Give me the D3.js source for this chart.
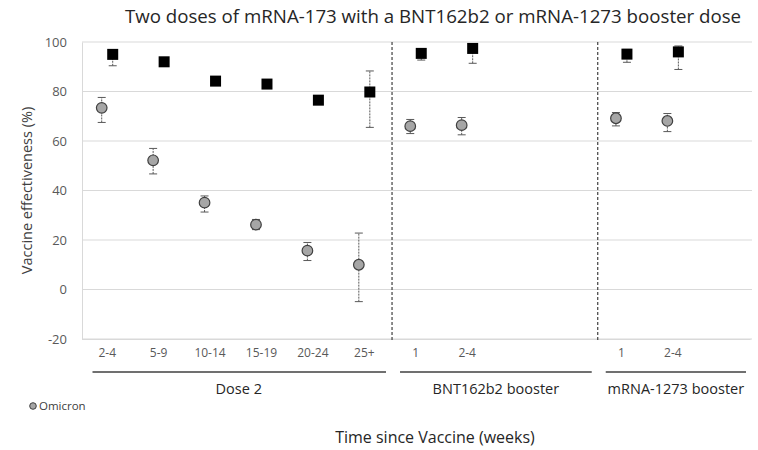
<!DOCTYPE html>
<html><head><meta charset="utf-8">
<script src="https://cdn.jsdelivr.net/npm/d3@7"></script>
<style>body{margin:0;background:#fff;}svg{display:block;font-family:"Open Sans",sans-serif;}</style>
</head><body><svg id="c" width="758" height="450"></svg>
<script>
const categories = ["2-4","5-9","10-14","15-19","20-24","25+","1","2-4","","","1","2-4",""];
const omicron     = [73.4, 52.2, 35.1, 26.2, 15.7, 10.0, 66.0, 66.4, null, null, 69.2, 68.1, null];
const omicronLow  = [67.5, 46.7, 31.3, 24.2, 11.7, -4.9, 63.0, 62.5, null, null, 66.1, 63.8, null];
const omicronHigh = [77.6, 57.0, 37.8, 28.3, 19.0, 22.8, 68.7, 69.5, null, null, 71.5, 71.1, null];
const delta       = [95.0, 92.0, 84.2, 83.0, 76.5, 79.8, 95.4, 97.4, null, null, 95.1, 96.0, null];
const deltaLow    = [90.4, 91.0, 83.5, 82.2, 75.8, 65.5, 92.7, 91.4, null, null, 91.8, 88.9, null];
const deltaHigh   = [96.8, 93.0, 85.0, 83.8, 77.2, 88.3, 97.0, 99.0, null, null, 97.0, 98.4, null];
const yTicks = [-20, 0, 20, 40, 60, 80, 100];
const groups = [
  {name: "Dose 2", start: 0, end: 5},
  {name: "BNT162b2 booster", start: 6, end: 9},
  {name: "mRNA-1273 booster", start: 10, end: 12}
];
const dividers = [6, 10];
const title = "Two doses of mRNA-173 with a BNT162b2 or mRNA-1273 booster dose";
const yTitle = "Vaccine effectiveness (%)";
const xTitle = "Time since Vaccine (weeks)";
const legendLabel = "Omicron";

const svg = d3.select("#c");
const idx = categories.map((d, i) => i);
const x = d3.scaleBand().domain(idx).range([81.5, 750]);
const y = d3.scaleLinear().domain([-20, 100]).range([339, 42]);
const bw = x.bandwidth();
const cx = i => x(i) + bw / 2;

// gridlines
svg.append("g").selectAll("line").data(yTicks).join("line")
  .attr("x1", 82).attr("x2", 752).attr("y1", d => y(d)).attr("y2", d => y(d))
  .attr("stroke", "#d9d9d9").attr("stroke-width", 1);

// y axis
const yAxis = svg.append("g").attr("transform", "translate(82,0)")
  .call(d3.axisLeft(y).tickValues(yTicks).tickSize(0).tickPadding(15).tickFormat(d => String(d)));
yAxis.select(".domain").attr("stroke", "#d9d9d9");
yAxis.selectAll("text").attr("fill", "#595959").attr("font-size", 13).attr("font-family", "Open Sans");

// x axis labels
const xAxis = svg.append("g").attr("transform", "translate(0,339)")
  .call(d3.axisBottom(x).tickSize(0).tickPadding(9).tickFormat(i => categories[i]));
xAxis.select(".domain").attr("stroke", "#d9d9d9");
xAxis.selectAll("text").attr("fill", "#595959").attr("font-size", 12).attr("font-family", "Open Sans");

// dividers
svg.append("g").selectAll("line").data(dividers).join("line")
  .attr("x1", d => x(d) + 2).attr("x2", d => x(d) + 2)
  .attr("y1", y(100)).attr("y2", 342)
  .attr("stroke", "#404040").attr("stroke-width", 1.2).attr("stroke-dasharray", "3,2");

// group lines & labels
const gg = svg.append("g");
gg.selectAll("line").data(groups).join("line")
  .attr("x1", d => x(d.start) + (d.start === 0 ? 11 : 10))
  .attr("x2", d => Math.min(x(d.end) + bw - 4, 750))
  .attr("y1", 372).attr("y2", 372).attr("stroke", "#404040").attr("stroke-width", 1.3);
gg.selectAll("text").data(groups).join("text")
  .attr("x", d => (x(d.start) + 10 + Math.min(x(d.end) + bw - 4, 750)) / 2)
  .attr("y", 394).attr("text-anchor", "middle")
  .attr("font-size", 14.5).attr("fill", "#262626").text(d => d.name);

// error bars
function errBars(vals, lo, hi, off) {
  const g = svg.append("g");
  const data = idx.filter(i => vals[i] !== null);
  g.selectAll("line.v").data(data).join("line").attr("class", "v")
    .attr("x1", i => cx(i) + off).attr("x2", i => cx(i) + off)
    .attr("y1", i => y(lo[i])).attr("y2", i => y(hi[i]))
    .attr("stroke", "#595959").attr("stroke-width", 1).attr("stroke-dasharray", "2,1");
  [lo, hi].forEach(arr => {
    g.selectAll(null).data(data).join("line")
      .attr("x1", i => cx(i) + off - 4).attr("x2", i => cx(i) + off + 4)
      .attr("y1", i => y(arr[i])).attr("y2", i => y(arr[i]))
      .attr("stroke", "#595959").attr("stroke-width", 1);
  });
}
errBars(omicron, omicronLow, omicronHigh, -5.5);
errBars(delta, deltaLow, deltaHigh, 5.5);

// markers
svg.append("g").selectAll("circle").data(idx.filter(i => omicron[i] !== null)).join("circle")
  .attr("cx", i => cx(i) - 5.5).attr("cy", i => y(omicron[i])).attr("r", 5.3)
  .attr("fill", "#a6a6a6").attr("stroke", "#404040").attr("stroke-width", 1.2);
svg.append("g").selectAll("rect").data(idx.filter(i => delta[i] !== null)).join("rect")
  .attr("x", i => cx(i)).attr("y", i => y(delta[i]) - 5.5)
  .attr("width", 11).attr("height", 11).attr("fill", "#000");

// titles
svg.append("text").attr("x", 433).attr("y", 23).attr("text-anchor", "middle")
  .attr("font-size", 18.7).attr("fill", "#262626").text(title);
svg.append("text").attr("transform", `translate(32,${y(40)}) rotate(-90)`)
  .attr("text-anchor", "middle").attr("font-size", 14.5).attr("fill", "#404040").text(yTitle);
svg.append("text").attr("x", 435).attr("y", 443).attr("text-anchor", "middle")
  .attr("font-size", 16).attr("fill", "#262626").text(xTitle);

// legend
svg.append("circle").attr("cx", 33).attr("cy", 406).attr("r", 3.3)
  .attr("fill", "#a6a6a6").attr("stroke", "#404040").attr("stroke-width", 1);
svg.append("text").attr("x", 39).attr("y", 410).attr("font-size", 11.5).attr("fill", "#404040").text(legendLabel);
</script></body></html>
